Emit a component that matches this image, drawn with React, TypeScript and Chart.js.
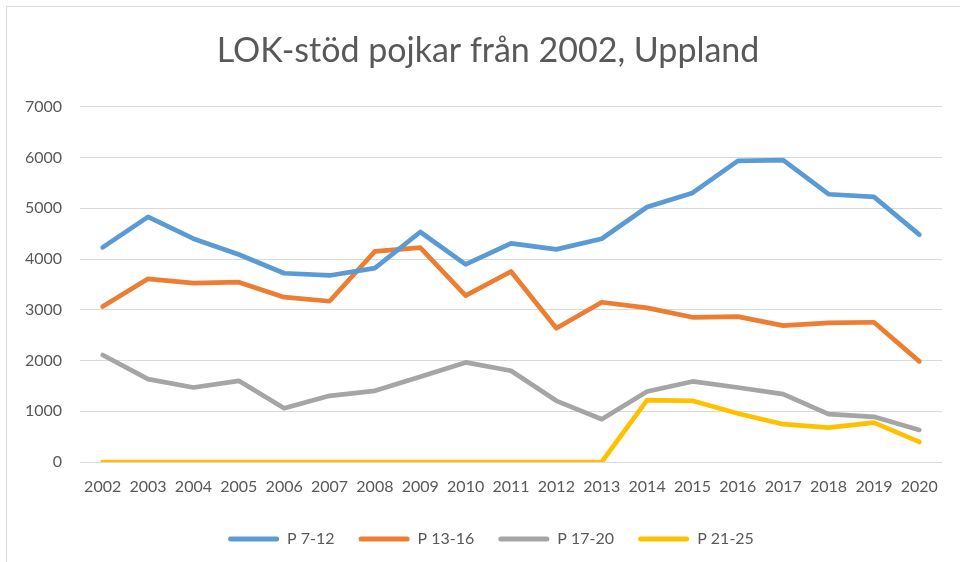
import React, { useEffect, useRef } from 'react';
import { Chart, registerables } from 'chart.js';

Chart.register(...registerables);

const TITLE = 'LOK-stöd pojkar från 2002, Uppland';
const years = ['2002', '2003', '2004', '2005', '2006', '2007', '2008', '2009', '2010', '2011', '2012', '2013', '2014', '2015', '2016', '2017', '2018', '2019', '2020'];
const seriesNames = ['P 7-12', 'P 13-16', 'P 17-20', 'P 21-25'];
const p712 = [4230, 4830, 4400, 4090, 3720, 3676, 3820, 4532, 3893, 4310, 4190, 4400, 5026, 5303, 5935, 5949, 5277, 5224, 4480];
const p1316 = [3063, 3610, 3524, 3544, 3248, 3168, 4150, 4223, 3280, 3755, 2635, 3149, 3037, 2852, 2866, 2688, 2741, 2754, 1983];
const p1720 = [2108, 1634, 1469, 1600, 1060, 1304, 1403, 1680, 1963, 1798, 1206, 843, 1390, 1588, 1469, 1338, 943, 890, 632];
const p2125 = [0, 0, 0, 0, 0, 0, 0, 0, 0, 0, 0, 0, 1219, 1206, 955, 745, 678, 777, 395];
const colors = ['#5B9BD5', '#ED7D31', '#A5A5A5', '#FFC000'];
const yMin = 0;
const yMax = 7000;
const yStep = 1000;

const FONT = 'Lato, "Open Sans", sans-serif';

// shift title/legend boxes so they centre like the reference
const centerShift = {
  id: 'centerShift',
  afterLayout(chart: any) {
    if (chart.titleBlock) chart.titleBlock.left = 34;
    if (chart.legend) chart.legend.left = 40;
  },
};

export default function App() {
  const ref = useRef<HTMLCanvasElement>(null);
  useEffect(() => {
    const values = [p712, p1316, p1720, p2125];
    const chart = new Chart(ref.current!, {
      type: 'line',
      data: {
        labels: years,
        datasets: values.map((v, i) => ({
          label: seriesNames[i],
          data: v,
          borderColor: colors[i],
          backgroundColor: colors[i],
          borderWidth: 4.7,
          borderJoinStyle: 'round',
          borderCapStyle: 'round',
          pointRadius: 0,
          tension: 0,
          fill: false,
        })),
      },
      plugins: [centerShift],
      options: {
        animation: false,
        responsive: false,
        maintainAspectRatio: false,
        layout: { padding: { left: 0, right: 18, top: 0, bottom: 0 } },
        plugins: {
          title: {
            display: true,
            text: TITLE,
            color: '#595959',
            font: { family: FONT, size: 34, weight: 'normal' },
            padding: { top: 31, bottom: 35 },
          },
          legend: {
            position: 'bottom',
            labels: {
              boxWidth: 51,
              boxHeight: 5,
              padding: 24,
              color: '#595959',
              font: { family: FONT, size: 16 },
              useBorderRadius: true,
              borderRadius: 2.5,
              generateLabels: (c: any) =>
                Chart.defaults.plugins.legend.labels.generateLabels(c).map((l: any) => ({ ...l, lineWidth: 0 })),
            },
          },
          tooltip: { enabled: false },
        },
        scales: {
          x: {
            offset: true,
            grid: { display: false, drawTicks: false },
            border: { display: false },
            ticks: { color: '#595959', font: { family: FONT, size: 16 }, padding: 15, maxRotation: 0, autoSkip: false },
            afterFit: (s: any) => { s.height = 45; },
          },
          y: {
            min: yMin,
            max: yMax,
            ticks: {
              stepSize: yStep,
              color: '#595959',
              font: { family: FONT, size: 16 },
              padding: 18,
              callback: (v: any) => String(v),
            },
            grid: { color: '#d9d9d9', lineWidth: 1, drawTicks: false },
            border: { display: false },
            afterFit: (s: any) => { s.width = 80; },
          },
        },
      },
    });
    return () => chart.destroy();
  }, []);

  return (
    <div style={{ position: 'absolute', left: 0, top: 0, width: 960, height: 562, overflow: 'hidden', background: '#fff' }}>
      <canvas ref={ref} width={960} height={557} style={{ position: 'absolute', left: 0, top: 0, width: 960, height: 557 }} />
      <div style={{ position: 'absolute', left: 6, top: 6, width: 1000, height: 1000, border: '1.5px solid #d9d9d9', pointerEvents: 'none' }} />
    </div>
  );
}
